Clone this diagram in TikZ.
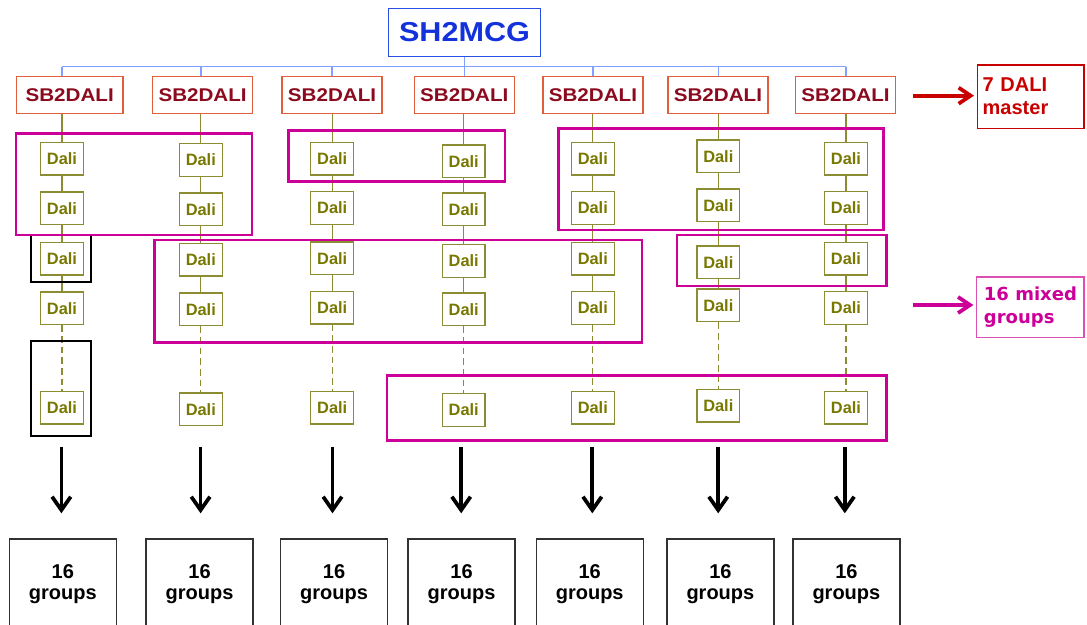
\documentclass[tikz,border=0pt]{standalone}
\usepackage{fontspec}
\setmainfont{Liberation Sans}
\newfontfamily\wsans[FakeStretch=1.12]{Liberation Sans}
\newfontfamily\vsans{DejaVu Sans}
\usetikzlibrary{arrows.meta}
\definecolor{mcgborder}{RGB}{40,80,230}
\definecolor{mcgtext}{RGB}{20,50,220}
\definecolor{busblue}{RGB}{130,160,255}
\definecolor{sbborder}{RGB}{225,95,60}
\definecolor{sbtext}{RGB}{140,10,30}
\definecolor{oliveline}{RGB}{140,140,50}
\definecolor{olivetext}{RGB}{120,120,0}
\definecolor{grpmag}{RGB}{204,0,153}
\definecolor{mixborder}{RGB}{220,80,180}
\definecolor{darkred}{RGB}{200,0,0}
\definecolor{outgray}{RGB}{50,50,50}
\begin{document}
\begin{tikzpicture}[x=0.75pt,y=-0.75pt,
  mcg/.style={draw=mcgborder, line width=1.1pt, text=mcgtext, font=\wsans\bfseries\fontsize{20.5}{24}\selectfont, minimum width=114pt, minimum height=36.2pt, inner sep=0pt},
  sbbox/.style={draw=sbborder, line width=1pt, text=sbtext, font=\wsans\bfseries\fontsize{13.8}{16}\selectfont, minimum width=75pt, minimum height=27.5pt, inner sep=0pt},
  dali/.style={draw=oliveline, line width=0.9pt, text=olivetext, font=\bfseries\fontsize{12.3}{14}\selectfont, minimum width=32pt, minimum height=24.4pt, inner sep=0pt, fill=white},
  bline/.style={draw=busblue, line width=1.1pt},
  oline/.style={draw=oliveline, line width=0.9pt},
  odash/.style={oline, dash pattern=on 5pt off 3pt},
  grp/.style={draw=grpmag, line width=1.9pt},
  blk/.style={draw=black, line width=1.5pt},
  outbox/.style={draw=outgray, line width=1pt, minimum width=80.25pt, minimum height=68pt, align=center, font=\bfseries\fontsize{15}{15.5}\selectfont, inner sep=0pt},
  downarrow/.style={line width=2.8pt, -{Straight Barb[length=10pt,width=14pt]}},
  sidearrow/.style={line width=2.8pt, -{Straight Barb[length=9pt,width=12pt]}, shorten >=2pt}
]
\useasboundingbox (0,0) rectangle (1087,624);
\clip (0,0) rectangle (1087,624);

% master node
\node[mcg] (mcg) at (464.5,32.4) {SH2MCG};

% SB2DALI masters
\node[sbbox, minimum width=79.7pt] (sb1) at (69.7,95) {SB2DALI};
\node[sbbox] (sb2) at (202.6,95) {SB2DALI};
\node[sbbox] (sb3) at (332,95) {SB2DALI};
\node[sbbox] (sb4) at (464.3,95) {SB2DALI};
\node[sbbox] (sb5) at (592.9,95) {SB2DALI};
\node[sbbox] (sb6) at (717.9,95) {SB2DALI};
\node[sbbox] (sb7) at (845.5,95) {SB2DALI};

% Dali devices and their lines
\foreach \c/\xx/\ya/\yb/\yc/\yd/\ye in {
  1/62/158.8/208.3/258.7/308.3/407.7,
  2/200.8/160/209.2/259.7/309.3/409.2,
  3/332.2/158.8/208/258.3/307.7/407.7,
  4/463.7/161.3/209.3/261/309.3/410,
  5/592.8/158.8/208/258.8/308/407.7,
  6/718.3/156.3/205.3/262.3/305.3/405.7,
  7/846/158.8/208/258.7/308/407.7}{
  \node[dali] (d\c1) at (\xx,\ya) {Dali};
  \node[dali] (d\c2) at (\xx,\yb) {Dali};
  \node[dali] (d\c3) at (\xx,\yc) {Dali};
  \node[dali] (d\c4) at (\xx,\yd) {Dali};
  \node[dali] (d\c5) at (\xx,\ye) {Dali};
  \draw[oline] (d\c1.north |- sb\c.south) -- (d\c1.north);
  \draw[oline] (d\c1.south) -- (d\c2.north);
  \draw[oline] (d\c2.south) -- (d\c3.north);
  \draw[oline] (d\c3.south) -- (d\c4.north);
  \draw[odash] (d\c4.south) -- (d\c5.north);
}

% blue bus
\coordinate (bus) at (465,66.7);
\draw[bline] (mcg.south) -- (mcg.south |- sb4.north);
\draw[bline] (d11 |- bus) -- (d71 |- bus);
\foreach \c in {1,2,3,5,6,7}{
  \draw[bline] (d\c1 |- bus) -- (d\c1 |- sb\c.north);
}

% black single groups
\draw[blk] (30.9,235) rectangle (91.2,282.3);
\draw[blk] (30.9,341) rectangle (91.2,435.7);

% magenta mixed groups
\draw[grp] (15.8,133.3) rectangle (251.8,235);
\draw[grp] (288.3,130.7) rectangle (505,181.7);
\draw[grp] (558.5,128.3) rectangle (883.7,230);
\draw[grp] (154.3,240) rectangle (642.2,342.7);
\draw[grp] (386.9,375.5) rectangle (886.5,440.7);
\draw[grp] (677,235) rectangle (886.5,286);

% legends
\node[draw=darkred, line width=1pt, text=darkred, font=\bfseries\fontsize{15}{17.25}\selectfont,
  minimum width=80pt, minimum height=47.5pt, text width=72pt, inner xsep=4pt, inner ysep=0pt, align=left]
  (master) at (1030.7,96.7) {7 DALI\\master};
\node[draw=mixborder, line width=1pt, text=grpmag, font=\vsans\bfseries\fontsize{13.5}{17}\selectfont,
  minimum width=80.5pt, minimum height=45.4pt, inner sep=0pt, align=left]
  (mixed) at (1030.4,307.2) {16 mixed\\groups};
\coordinate (rs) at (913.3,95.7);
\coordinate (ms) at (913,305);
\draw[sidearrow, darkred] (rs) -- (rs -| master.west);
\draw[sidearrow, grpmag] (ms) -- (ms -| mixed.west);

% outputs
\node[outbox] (g1) at (62.8,584.3) {16\\groups};
\node[outbox] (g2) at (199.5,584.3) {16\\groups};
\node[outbox] (g3) at (334.1,584.3) {16\\groups};
\node[outbox] (g4) at (461.6,584.3) {16\\groups};
\node[outbox] (g5) at (589.7,584.3) {16\\groups};
\node[outbox] (g6) at (720.4,584.3) {16\\groups};
\node[outbox] (g7) at (846.4,584.3) {16\\groups};

\foreach \c/\xx in {1/61.4,2/200.6,3/332.5,4/461.2,5/592.3,6/718.2,7/844.8}{
  \coordinate (ta\c) at (\xx,446.7);
  \coordinate (ha\c) at (\xx,513.3);
  \draw[downarrow] (ta\c) -- (ha\c);
}
\end{tikzpicture}
\end{document}
